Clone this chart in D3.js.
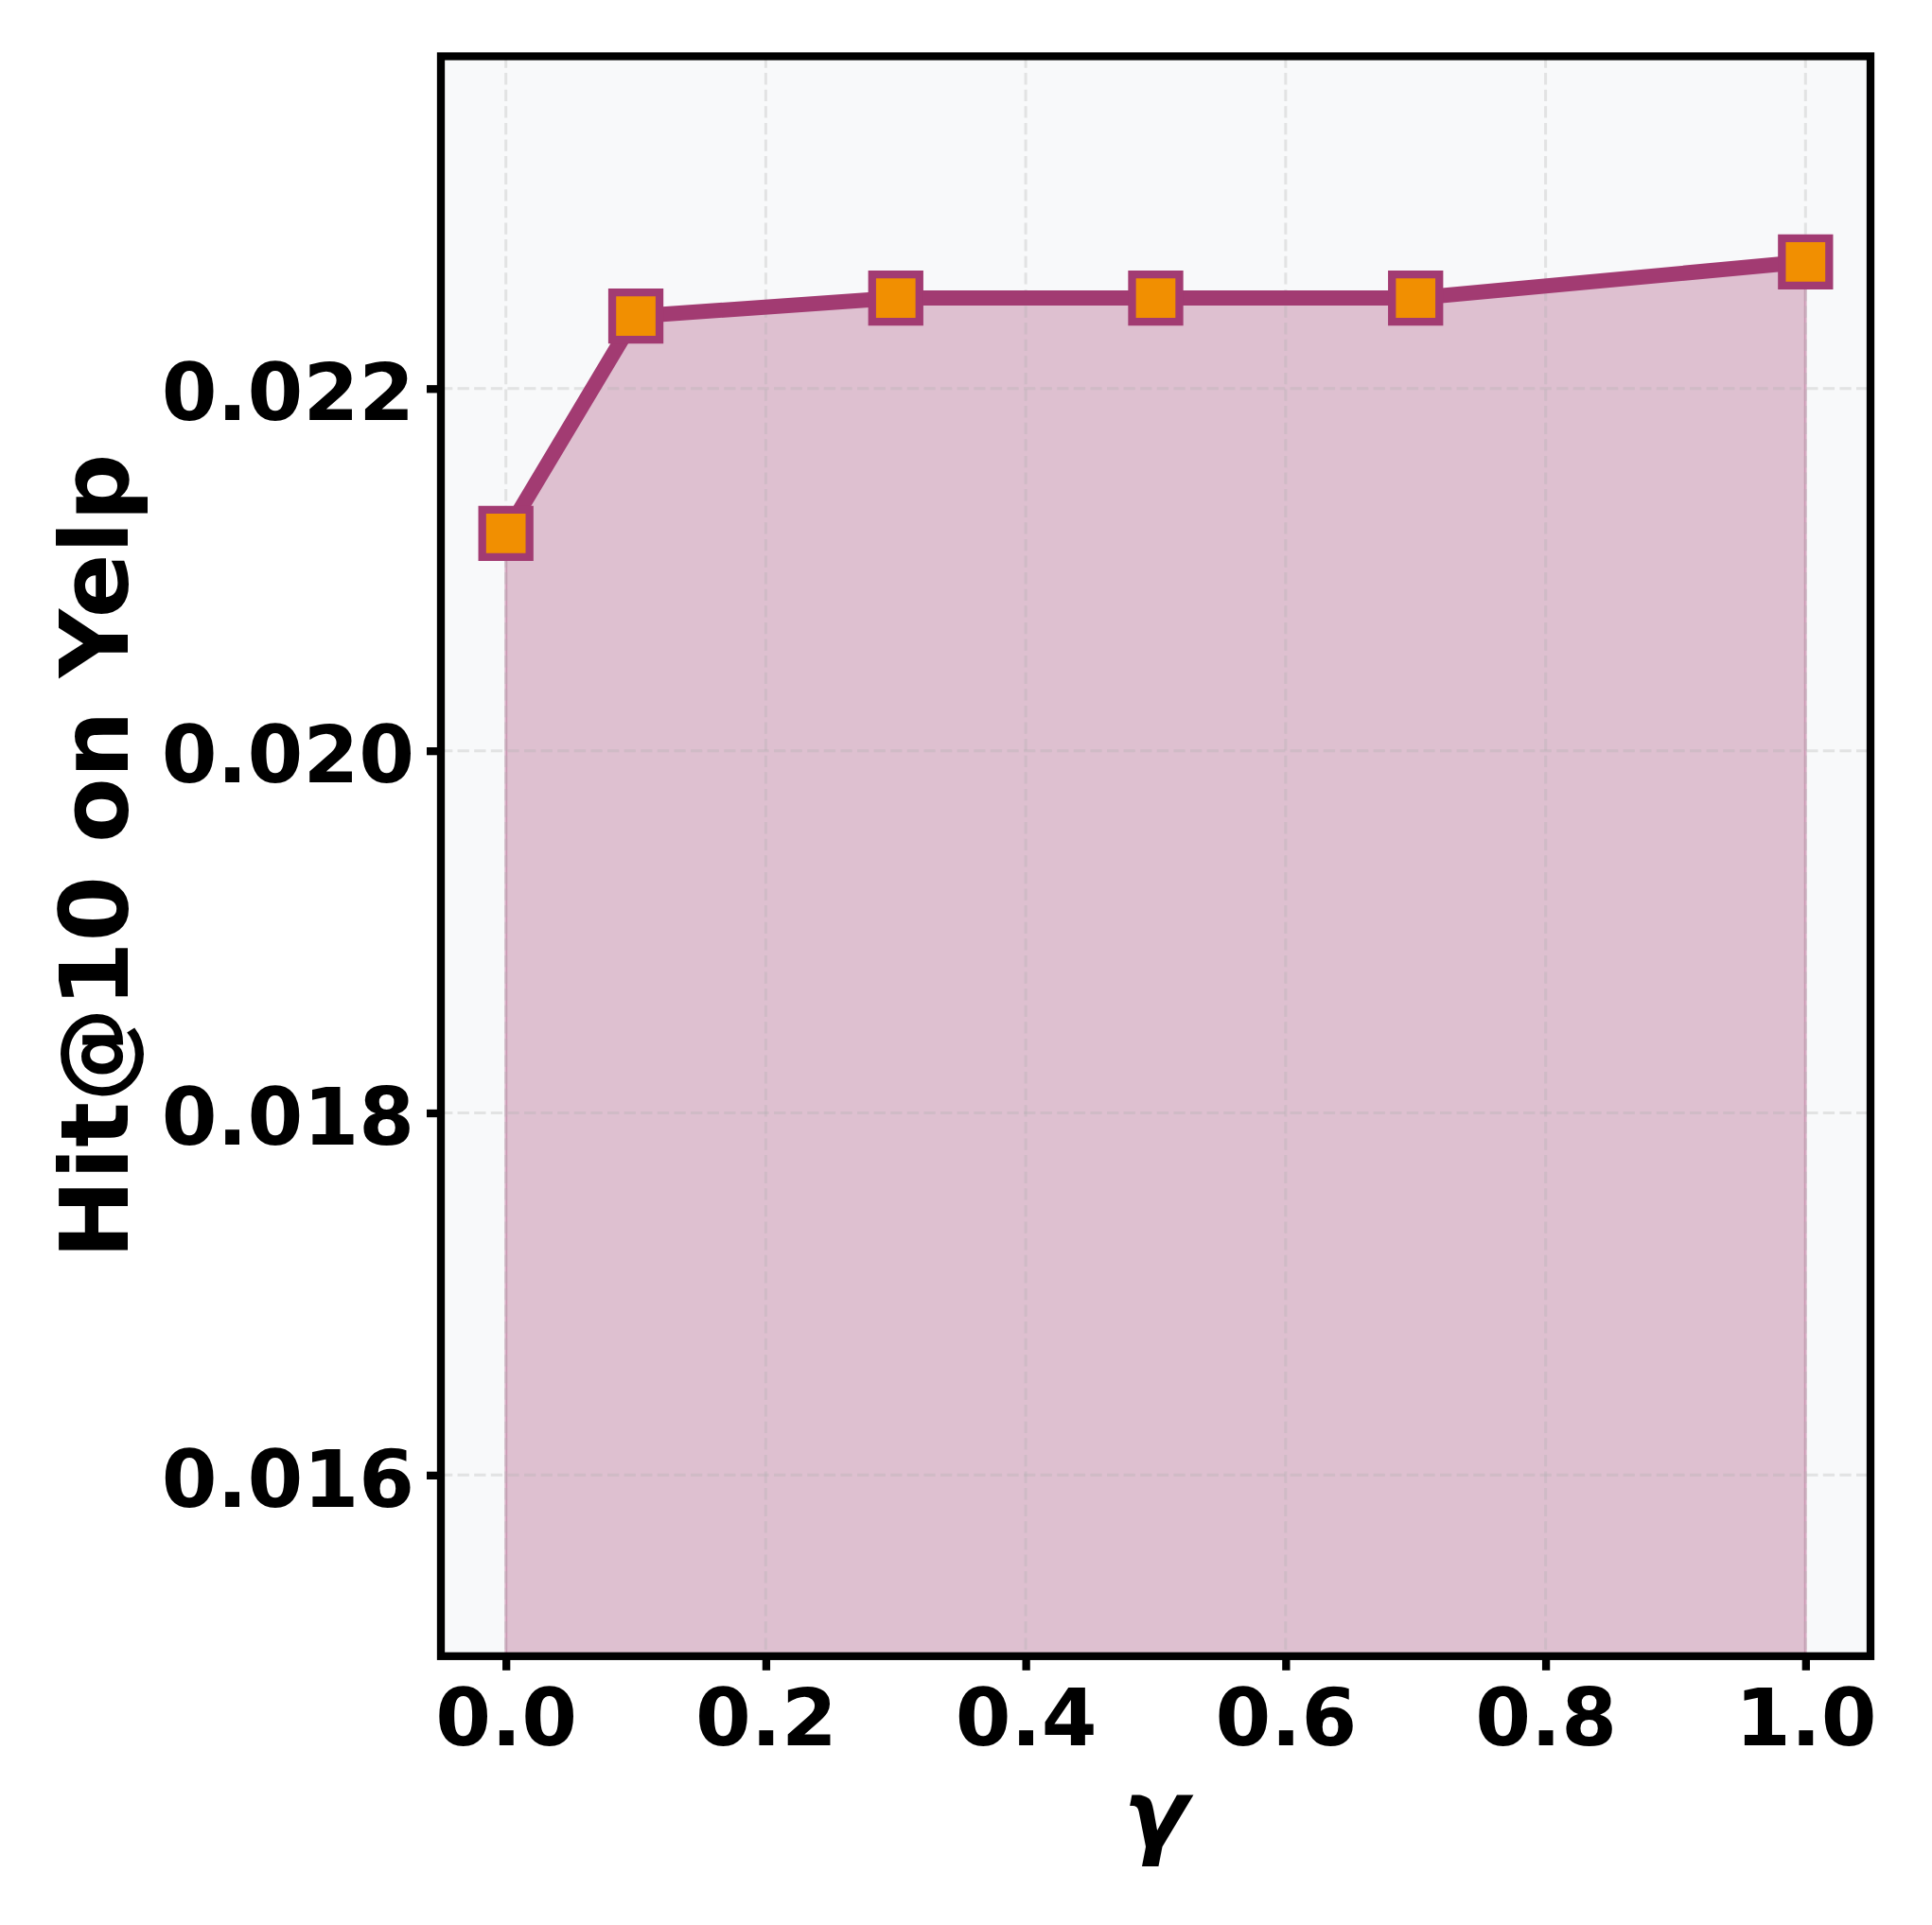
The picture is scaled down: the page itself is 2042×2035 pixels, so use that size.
<!DOCTYPE html>
<html>
<head>
<meta charset="utf-8">
<script src="https://cdn.jsdelivr.net/npm/d3@7"></script>
<style>
  html, body { margin: 0; padding: 0; background: #ffffff; }
  svg { display: block; }
  text { font-family: "DejaVu Sans", sans-serif; font-weight: bold; }
</style>
</head>
<body>
<svg id="chart" width="2042" height="2035"></svg>
<script>
// ---- data ----
const gammas = [0.0, 0.1, 0.3, 0.5, 0.7, 1.0];
const hitAt10 = [0.0212, 0.0224, 0.0225, 0.0225, 0.0225, 0.0227];
const xTicks = [0.0, 0.2, 0.4, 0.6, 0.8, 1.0];
const yTicks = [0.016, 0.018, 0.020, 0.022];
const xDomain = [-0.05, 1.05];
const yDomain = [0.0150, 0.023835];
const xLabel = "γ";
const yLabel = "Hit@10 on Yelp";

// ---- layout ----
const mLeft = 466, mRight = 1977, mTop = 59.5, mBottom = 1750.8;
const lineColor = "#A23B72", markerFill = "#F18F01", bg = "#f8f9fa";
const tickFont = 84.5;

const svg = d3.select("#chart");
const x = d3.scaleLinear().domain(xDomain).range([mLeft, mRight]);
const y = d3.scaleLinear().domain(yDomain).range([mBottom, mTop]);

svg.append("defs").append("clipPath").attr("id", "clip")
  .append("rect").attr("x", mLeft).attr("y", mTop)
  .attr("width", mRight - mLeft).attr("height", mBottom - mTop);

// background
svg.append("rect").attr("x", mLeft).attr("y", mTop)
  .attr("width", mRight - mLeft).attr("height", mBottom - mTop).attr("fill", bg);

const data = gammas.map((g, i) => ({ g, v: hitAt10[i] }));

// fill area
const plot = svg.append("g").attr("clip-path", "url(#clip)");
const area = d3.area().x(d => x(d.g)).y0(y(yDomain[0])).y1(d => y(d.v));
plot.append("path").datum(data).attr("d", area)
  .attr("fill", lineColor).attr("fill-opacity", 0.3)
  .attr("stroke", lineColor).attr("stroke-opacity", 0.3).attr("stroke-width", 3);

// grid
const grid = svg.append("g").attr("clip-path", "url(#clip)");
grid.selectAll(".vg").data(xTicks).join("line")
  .attr("x1", d => x(d)).attr("x2", d => x(d)).attr("y1", mTop).attr("y2", mBottom)
  .attr("stroke", "#b0b0b0").attr("stroke-opacity", 0.3)
  .attr("stroke-width", 3).attr("stroke-dasharray", "12.3,5.3");
grid.selectAll(".hg").data(yTicks).join("line")
  .attr("y1", d => y(d)).attr("y2", d => y(d)).attr("x1", mLeft).attr("x2", mRight)
  .attr("stroke", "#b0b0b0").attr("stroke-opacity", 0.3)
  .attr("stroke-width", 3).attr("stroke-dasharray", "12.3,5.3");

// line
const linePlot = svg.append("g").attr("clip-path", "url(#clip)");
linePlot.append("path").datum(data)
  .attr("d", d3.line().x(d => x(d.g)).y(d => y(d.v)))
  .attr("fill", "none").attr("stroke", lineColor).attr("stroke-width", 16)
  .attr("stroke-linejoin", "round").attr("stroke-linecap", "butt");

// markers
svg.append("g").selectAll("path").data(data).join("path")
  .attr("transform", d => `translate(${x(d.g)},${y(d.v)})`)
  .attr("d", d3.symbol(d3.symbolSquare, 2500)())
  .attr("fill", markerFill).attr("stroke", lineColor).attr("stroke-width", 8.3);

// axes
const xAxis = svg.append("g").attr("transform", `translate(0,${mBottom})`)
  .call(d3.axisBottom(x).tickValues(xTicks).tickFormat(d3.format(".1f")).tickSize(15));
xAxis.select(".domain").remove();
xAxis.selectAll(".tick line").attr("stroke", "#000").attr("stroke-width", 8.3);
xAxis.selectAll(".tick text").attr("y", 94).attr("dy", 0)
  .attr("font-size", tickFont).attr("fill", "#000")
  .style("font-family", "'DejaVu Sans', sans-serif").style("font-weight", "bold");

const yAxis = svg.append("g").attr("transform", `translate(${mLeft},0)`)
  .call(d3.axisLeft(y).tickValues(yTicks).tickFormat(d3.format(".3f")).tickSize(15));
yAxis.select(".domain").remove();
yAxis.selectAll(".tick line").attr("stroke", "#000").attr("stroke-width", 8.3);
yAxis.selectAll(".tick text").attr("x", -28).attr("dy", 33)
  .attr("font-size", tickFont).attr("fill", "#000")
  .style("font-family", "'DejaVu Sans', sans-serif").style("font-weight", "bold");

// frame
svg.append("rect").attr("x", mLeft).attr("y", mTop)
  .attr("width", mRight - mLeft).attr("height", mBottom - mTop)
  .attr("fill", "none").attr("stroke", "#000").attr("stroke-width", 8.3);

// labels
svg.append("text").attr("x", (mLeft + mRight) / 2).attr("y", 1952.4)
  .attr("text-anchor", "middle").attr("font-size", 100)
  .attr("font-style", "italic").text(xLabel);

svg.append("text")
  .attr("transform", `translate(135,${(mTop + mBottom) / 2}) rotate(-90)`)
  .attr("text-anchor", "middle").attr("font-size", 100).text(yLabel);
</script>
</body>
</html>
